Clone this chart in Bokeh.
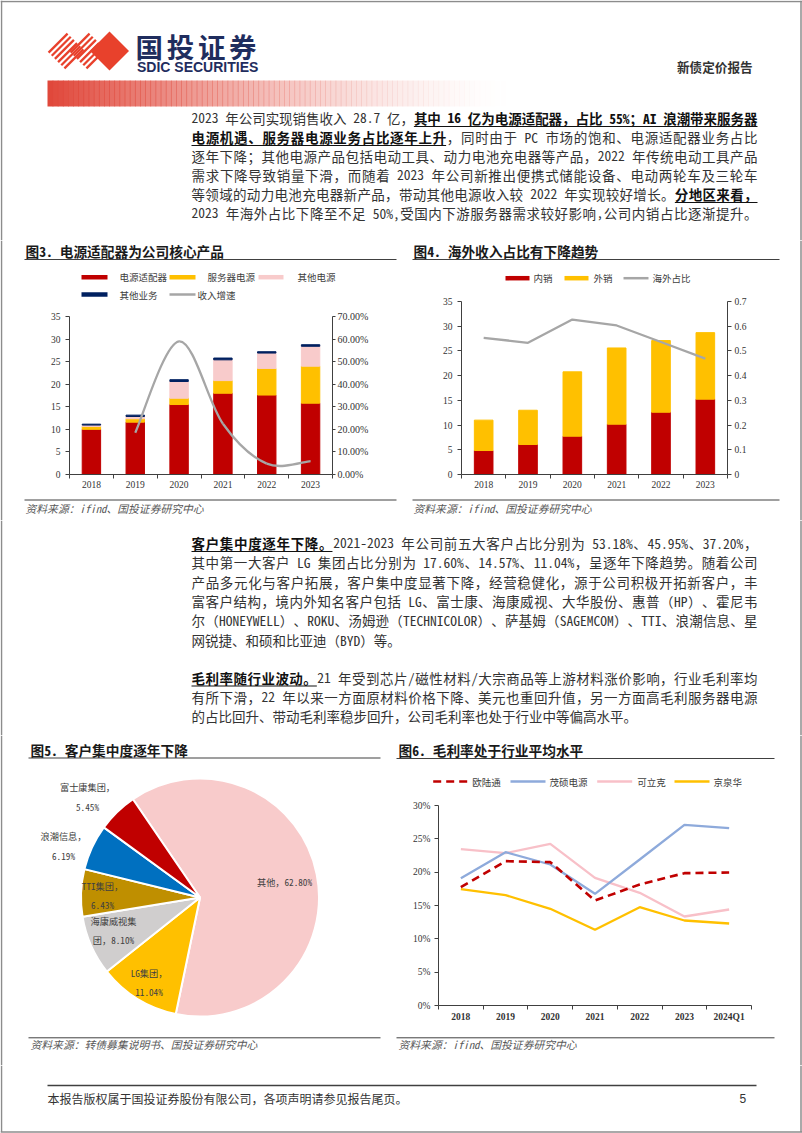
import math
from bokeh.plotting import figure
from bokeh.layouts import column, row
from bokeh.models import Range1d, FixedTicker, LinearAxis, PrintfTickFormatter, ColumnDataSource
from bokeh.core.properties import value
from bokeh.embed import file_html
from bokeh.resources import INLINE

# ---------------- data ----------------
years = ["2018", "2019", "2020", "2021", "2022", "2023"]
adapter = [10.0, 11.6, 15.5, 18.0, 17.6, 15.8]
server_power = [0.65, 0.75, 1.4, 2.8, 5.9, 8.2]
other_power = [0.3, 0.5, 3.7, 4.6, 3.4, 4.4]
other_business = [0.2, 0.3, 0.4, 0.4, 0.3, 0.35]
revenue_growth = [None, 18.5, 59.0, 22.5, 4.8, 5.9]
fig3_series = ["电源适配器", "服务器电源", "其他电源", "其他业务", "收入增速"]
fig3_left_ticks = [0, 5, 10, 15, 20, 25, 30, 35]
fig3_right_ticks = [0, 10, 20, 30, 40, 50, 60, 70]

domestic = [4.85, 6.07, 7.75, 10.18, 12.6, 15.24]
overseas = [6.15, 6.93, 13.02, 15.42, 14.5, 13.46]
overseas_share = [0.553, 0.533, 0.627, 0.603, 0.536, 0.469]
fig4_series = ["内销", "外销", "海外占比"]
fig4_left_ticks = [0, 5, 10, 15, 20, 25, 30, 35]
fig4_right_ticks = [0, 0.1, 0.2, 0.3, 0.4, 0.5, 0.6, 0.7]

client_names = ["其他", "LG集团", "海康威视集团", "TTI集团", "浪潮信息", "富士康集团"]
client_share = [62.80, 11.04, 8.10, 6.43, 6.19, 5.45]

gm_periods = ["2018", "2019", "2020", "2021", "2022", "2023", "2024Q1"]
gm_oulutong = [17.75, 21.65, 21.5, 15.75, 18.15, 19.85, 19.95]
gm_maoshuo = [19.1, 23.0, 21.15, 16.75, 21.9, 27.1, 26.6]
gm_kelike = [23.45, 22.85, 24.25, 19.15, 16.9, 13.35, 14.4]
gm_jingquanhua = [17.45, 16.55, 14.5, 11.35, 14.75, 12.75, 12.3]
gm_series = ["欧陆通", "茂硕电源", "可立克", "京泉华"]
gm_ticks = [0, 5, 10, 15, 20, 25, 30]

# ---------------- styles ----------------
BODY = "Noto Sans Mono CJK SC, Noto Sans CJK SC"
SERIF = "Liberation Serif, Noto Sans CJK SC"
AX = "#404040"
RED, YEL, PINK, NAVY, GRAY = "#c00000", "#ffc000", "#f8cbcb", "#002060", "#a6a6a6"
SRC_COLOR = "#595959"
BORDER = "#8c8c8c"
LEG_FS = 9.5
TICK_FS = "9.5px"


def deco(x0, x1, y0, y1):
    p = figure(width=x1 - x0, height=y1 - y0, x_range=Range1d(x0, x1), y_range=Range1d(y1, y0),
               x_axis_type=None, y_axis_type=None, output_backend="svg",
               toolbar_location=None, min_border=0)
    p.outline_line_color = None
    p.background_fill_color = "white"
    p.border_fill_color = "white"
    return p


def txt(p, x, y, s, size, color="#333333", font=BODY, style="normal", align="left", lh=1.2):
    p.text(x=[x], y=[y], text=[s], text_font=value(font), text_font_size=value(f"{size}px"),
           text_color=color, text_font_style=style, text_align=align, text_baseline="middle",
           text_line_height=lh)


def hline(p, x0, x1, y, color=AX, width=1.0, dash="solid"):
    p.segment(x0=[x0], y0=[y], x1=[x1], y1=[y], line_color=color, line_width=width, line_dash=dash)


def vline(p, x, y0, y1, color=BORDER, width=1.5):
    p.segment(x0=[x], y0=[y0], x1=[x], y1=[y1], line_color=color, line_width=width)


def layout_line(segments, x0, x1, fs, justify=True):
    toks = []
    pend = 0.0
    for text, style in segments:
        buf = ""
        for ch in text:
            if ch == " ":
                if buf:
                    toks.append([buf, 0.5 * len(buf) * fs, pend, style]); buf = ""; pend = 0.0
                pend += 0.5 * fs
            elif ord(ch) > 0x2E7F:
                if buf:
                    toks.append([buf, 0.5 * len(buf) * fs, pend, style]); buf = ""; pend = 0.0
                toks.append([ch, fs, pend, style]); pend = 0.0
            else:
                buf += ch
        if buf:
            toks.append([buf, 0.5 * len(buf) * fs, pend, style]); buf = ""; pend = 0.0
    natural = sum(t[1] + t[2] for t in toks) - toks[0][2]
    gaps = len(toks) - 1
    extra = (x1 - x0 - natural) / gaps if (justify and gaps > 0) else 0.0
    x = x0
    out = []
    for i, t in enumerate(toks):
        if i > 0:
            x += t[2] + extra
        out.append((t[0], x, t[1], t[3]))
        x += t[1]
    return out


def paragraph(p, lines, ys, x0, x1, fs, last_justify=False):
    for k, (segs, y) in enumerate(zip(lines, ys)):
        just = True if k < len(lines) - 1 else last_justify
        toks = layout_line(segs, x0, x1, fs, just)
        for style, color, weight in (("n", "#333333", "normal"), ("bu", "#111111", "bold")):
            sel = [t for t in toks if t[3] == style]
            if not sel:
                continue
            p.text(x=[t[1] for t in sel], y=[y] * len(sel), text=[t[0] for t in sel],
                   text_font=value(BODY), text_font_size=value(f"{fs}px"), text_color=color,
                   text_font_style=weight, text_align="left", text_baseline="middle")
            if style == "bu":
                hline(p, sel[0][1], sel[-1][1] + sel[-1][2], y + 8.5, "#111111", 1.0)


def cfg_axis(ax, ticks, minor=None, tick_out=4, standoff=5, size=TICK_FS, bold=False):
    ax.ticker = FixedTicker(ticks=ticks, minor_ticks=minor or [])
    ax.axis_line_color = AX
    ax.major_tick_line_color = AX
    ax.minor_tick_line_color = AX
    ax.major_tick_in = 0
    ax.major_tick_out = tick_out
    ax.minor_tick_in = 0
    ax.minor_tick_out = 4 if minor else 0
    ax.major_label_standoff = standoff
    ax.major_label_text_font = SERIF
    ax.major_label_text_font_size = size
    ax.major_label_text_color = "#333333"
    if bold:
        ax.major_label_text_font_style = "bold"


def chart_fig(width, height, xr, yr, mbl, mbr, mbt, mbb):
    p = figure(width=width, height=height, x_range=xr, y_range=yr, output_backend="svg",
               toolbar_location=None, min_border_left=mbl, min_border_right=mbr,
               min_border_top=mbt, min_border_bottom=mbb)
    p.outline_line_color = None
    p.xgrid.visible = False
    p.ygrid.visible = False
    p.background_fill_color = "white"
    p.border_fill_color = "white"
    return p


def catmull_bezier(xs, ys):
    n = len(xs)
    out = dict(x0=[], y0=[], x1=[], y1=[], cx0=[], cy0=[], cx1=[], cy1=[])
    for i in range(n - 1):
        xa, ya = xs[max(i - 1, 0)], ys[max(i - 1, 0)]
        xb, yb = xs[i], ys[i]
        xc, yc = xs[i + 1], ys[i + 1]
        xd, yd = xs[min(i + 2, n - 1)], ys[min(i + 2, n - 1)]
        out["x0"].append(xb); out["y0"].append(yb); out["x1"].append(xc); out["y1"].append(yc)
        out["cx0"].append(xb + (xc - xa) / 6); out["cy0"].append(yb + (yc - ya) / 6)
        out["cx1"].append(xc - (xd - xb) / 6); out["cy1"].append(yc - (yd - yb) / 6)
    return out


def strip(x0, x1, y0, y1, xl):
    s = deco(x0, x1, y0, y1)
    vline(s, xl, y0, y1)
    return s


# ================= Row A: header + paragraph 1 (y 0..240) =================
pa = deco(0, 802, 0, 240)
hline(pa, 0, 802, 1, BORDER, 1.5)
vline(pa, 1, 0, 240)
vline(pa, 800.5, 0, 240)
n_g = 90
gx0, gx1 = 47.0, 510.0
step = (gx1 - gx0) / n_g
pa.quad(left=[gx0 + i * step for i in range(n_g)], right=[gx0 + (i + 1) * step + 0.7 for i in range(n_g)],
        top=[80] * n_g, bottom=[106] * n_g, fill_color="#e0483b",
        fill_alpha=[(1 - i / n_g) ** 1.6 for i in range(n_g)], line_color=None)
LOGO = "#e8412c"
def stripes(p, cx, cy, h, n):
    xs0, ys0, xs1, ys1 = [], [], [], []
    for k in range(n):
        s = -h + (k + 0.5) * 2 * h / n
        xs0.append(cx + (s - h) / 2); ys0.append(cy + (s + h) / 2)
        xs1.append(cx + (s + h) / 2); ys1.append(cy + (s - h) / 2)
    p.segment(xs0, ys0, xs1, ys1, line_color=LOGO, line_width=2.3)
stripes(pa, 65.5, 50.5, 19, 6)
stripes(pa, 87.5, 50.5, 19, 6)
pa.patch([89.5, 109, 128.5, 109], [50.5, 31, 50.5, 70], fill_color=LOGO, line_color=None)
for i, ch in enumerate("国投证券"):
    txt(pa, 135 + i * 31.2, 45.5, ch, 27.5, color="#1f2d5e", font="Noto Sans CJK SC", style="bold")
txt(pa, 136.5, 66, "SDIC SECURITIES", 14, color="#1f2d5e", font="Liberation Sans", style="bold")
txt(pa, 676.5, 66, "新债定价报告", 12.6, color="#333333", font=BODY, style="bold")

para1 = [
    [("2023 年公司实现销售收入 28.7 亿，", "n"), ("其中 16 亿为电源适配器，占比 55%；AI 浪潮带来服务器", "bu")],
    [("电源机遇、服务器电源业务占比逐年上升", "bu"), ("，同时由于 PC 市场的饱和、电源适配器业务占比", "n")],
    [("逐年下降；其他电源产品包括电动工具、动力电池充电器等产品，2022 年传统电动工具产品", "n")],
    [("需求下降导致销量下滑，而随着 2023 年公司新推出便携式储能设备、电动两轮车及三轮车", "n")],
    [("等领域的动力电池充电器新产品，带动其他电源收入较 2022 年实现较好增长。", "n"), ("分地区来看，", "bu")],
    [("2023 年海外占比下降至不足 50%,受国内下游服务器需求较好影响,公司内销占比逐渐提升。", "n")],
]
paragraph(pa, para1, [117.5 + 19 * k for k in range(6)], 191, 757, 13.5, last_justify=True)

# ================= Row B: figure 3 and figure 4 (y 240..520) =================
h3 = deco(4, 400, 240, 305)
txt(h3, 25, 250, "图3. 电源适配器为公司核心产品", 13.7, color="#1a1a1a", style="bold")
hline(h3, 24, 396, 259, AX, 1.2)
leg3 = [(81, 107, 119, RED, 4.5, 276.7), (169, 195, 207, YEL, 4.5, 276.7), (258, 283, 297, PINK, 4.5, 276.7),
        (81, 107, 119, NAVY, 4.5, 294), (169, 195, 197, GRAY, 2.5, 294)]
for name, (a, b, tx, c, lw, yy) in zip(fig3_series, leg3):
    hline(h3, a, b, yy, c, lw)
    txt(h3, tx, yy, name, LEG_FS, color="#404040")

p3 = chart_fig(396, 192, Range1d(0.5, 6.5), Range1d(0, 35), 65, 68, 11, 23)
p3.extra_y_ranges = {"g": Range1d(0, 70)}
ax3r = LinearAxis(y_range_name="g")
p3.add_layout(ax3r, "right")
cfg_axis(p3.xaxis[0], [i + 1 for i in range(6)], minor=[i + 0.5 for i in range(7)], tick_out=0, standoff=2)
p3.xaxis[0].major_label_overrides = {i + 1: y for i, y in enumerate(years)}
cfg_axis(p3.left[0], fig3_left_ticks, tick_out=4, standoff=5)
cfg_axis(ax3r, fig3_right_ticks, tick_out=3, standoff=2, size="10px")
ax3r.formatter = PrintfTickFormatter(format="%.2f%%")
src3 = ColumnDataSource(dict(x=[i + 1 for i in range(6)], adapter=adapter, server=server_power,
                             otherp=other_power, otherb=other_business))
p3.vbar_stack(["adapter", "server", "otherp", "otherb"], x="x", width=0.42,
              color=[RED, YEL, PINK, NAVY], source=src3)
gx = [i + 1 for i, g in enumerate(revenue_growth) if g is not None]
gy = [g for g in revenue_growth if g is not None]
bz = ColumnDataSource(catmull_bezier(gx, gy))
p3.bezier(x0="x0", y0="y0", x1="x1", y1="y1", cx0="cx0", cy0="cy0", cx1="cx1", cy1="cy1",
          source=bz, y_range_name="g", line_color=GRAY, line_width=2.3)

f3 = deco(4, 400, 497, 520)
hline(f3, 24, 396, 499.5, AX, 1.0)
txt(f3, 25, 507.5, "资料来源：ifind、国投证券研究中心", 10.8, color=SRC_COLOR, style="italic")

h4 = deco(400, 798, 240, 293)
txt(h4, 413, 250, "图4. 海外收入占比有下降趋势", 13.7, color="#1a1a1a", style="bold")
hline(h4, 412, 779, 259, AX, 1.2)
leg4 = [(505, 529, 533, RED, 4.5), (564, 588, 593, YEL, 4.5), (623, 648, 652, GRAY, 2.5)]
for name, (a, b, tx, c, lw) in zip(fig4_series, leg4):
    hline(h4, a, b, 277.7, c, lw)
    txt(h4, tx, 277.7, name, LEG_FS, color="#404040")

p4 = chart_fig(398, 204, Range1d(0.5, 6.5), Range1d(0, 35), 61, 71, 8, 23)
p4.extra_y_ranges = {"s": Range1d(0, 0.7)}
ax4r = LinearAxis(y_range_name="s")
p4.add_layout(ax4r, "right")
cfg_axis(p4.xaxis[0], [i + 1 for i in range(6)], minor=[i + 0.5 for i in range(7)], tick_out=0, standoff=2)
p4.xaxis[0].major_label_overrides = {i + 1: y for i, y in enumerate(years)}
cfg_axis(p4.left[0], fig4_left_ticks, tick_out=4, standoff=5)
cfg_axis(ax4r, fig4_right_ticks, tick_out=4, standoff=3)
ax4r.formatter = PrintfTickFormatter(format="%.1f")
ax4r.major_label_overrides = {0: "0"}
src4 = ColumnDataSource(dict(x=[i + 1 for i in range(6)], dom=domestic, ovs=overseas, share=overseas_share))
p4.vbar_stack(["dom", "ovs"], x="x", width=0.42, color=[RED, YEL], source=src4)
p4.line(x="x", y="share", source=src4, y_range_name="s", line_color=GRAY, line_width=2.3)

f4 = deco(400, 798, 497, 520)
hline(f4, 412, 779, 499.5, AX, 1.0)
txt(f4, 413, 507.5, "资料来源：ifind、国投证券研究中心", 10.8, color=SRC_COLOR, style="italic")

# ================= Row C: paragraphs 2 & 3 (y 520..735) =================
pc = deco(0, 802, 520, 735)
vline(pc, 1, 520, 735)
vline(pc, 800.5, 520, 735)
para2 = [
    [("客户集中度逐年下降。", "bu"), ("2021-2023 年公司前五大客户占比分别为 53.18%、45.95%、37.20%，", "n")],
    [("其中第一大客户 LG 集团占比分别为 17.60%、14.57%、11.04%，呈逐年下降趋势。随着公司", "n")],
    [("产品多元化与客户拓展，客户集中度显著下降，经营稳健化，源于公司积极开拓新客户，丰", "n")],
    [("富客户结构，境内外知名客户包括 LG、富士康、海康威视、大华股份、惠普（HP）、霍尼韦", "n")],
    [("尔（HONEYWELL）、ROKU、汤姆逊（TECHNICOLOR）、萨基姆（SAGEMCOM）、TTI、浪潮信息、星", "n")],
    [("网锐捷、和硕和比亚迪（BYD）等。", "n")],
]
para3 = [
    [("毛利率随行业波动。", "bu"), ("21 年受到芯片/磁性材料/大宗商品等上游材料涨价影响，行业毛利率均", "n")],
    [("有所下滑，22 年以来一方面原材料价格下降、美元也重回升值，另一方面高毛利服务器电源", "n")],
    [("的占比回升、带动毛利率稳步回升，公司毛利率也处于行业中等偏高水平。", "n")],
]
paragraph(pc, para2, [542.5 + 19.3 * k for k in range(6)], 191, 757, 13.5)
paragraph(pc, para3, [677 + 19.3 * k for k in range(3)], 191, 757, 13.5)

# ================= Row D: figure 5 (pie) and figure 6 (y 735..1065) =================
p5 = deco(4, 390, 735, 1065)
txt(p5, 30, 749.5, "图5. 客户集中度逐年下降", 13.7, color="#1a1a1a", style="bold")
hline(p5, 28, 380, 757.5, AX, 1.2)
pie_colors = [PINK, YEL, "#d0cece", "#bf8f00", "#0070c0", RED]
pie_start = -34.3
tot = sum(client_share)
starts, ends, cum = [], [], 0.0
for s in client_share:
    c0 = pie_start + cum * 360 / tot
    cum += s
    c1 = pie_start + cum * 360 / tot
    starts.append(math.radians(90 - c0)); ends.append(math.radians(90 - c1))
p5.wedge(x=[199.5] * 6, y=[897] * 6, radius=119, radius_units="screen", start_angle=starts,
         end_angle=ends, direction="clock", fill_color=pie_colors, line_color="white", line_width=2)
pie_breaks = [None, "after", 5, "after", "after", "after"]
pie_pos = [(284, 881), (148.5, 982), (113, 930), (102, 895), (63, 845.5), (87, 796.5)]
for n_, s_, br, (lx, ly) in zip(client_names, client_share, pie_breaks, pie_pos):
    full = f"{n_}，{s_:.2f}%"
    if br == "after":
        lab = f"{n_}，\n{s_:.2f}%"
    elif isinstance(br, int):
        lab = full[:br] + "\n" + full[br:]
    else:
        lab = full
    txt(p5, lx, ly, lab, 9.2, color="#404040", align="center", lh=1.4)
hline(p5, 28, 380, 1037.3, AX, 1.0)
txt(p5, 30, 1043.5, "资料来源：转债募集说明书、国投证券研究中心", 10.8, color=SRC_COLOR, style="italic")

h6 = deco(390, 798, 735, 797)
txt(h6, 398, 749.5, "图6. 毛利率处于行业平均水平", 13.7, color="#1a1a1a", style="bold")
hline(h6, 396, 774, 758, AX, 1.2)
gm_colors = [RED, "#8eaadb", "#f8c0c8", YEL]
gm_dash = ["8 5", "solid", "solid", "solid"]
leg6 = [(432.7, 467.3, 471.7), (510, 545, 549), (596.7, 631.7, 636.7), (674, 709, 713)]
for name, c, d, (a, b, tx) in zip(gm_series, gm_colors, gm_dash, leg6):
    hline(h6, a, b, 781, c, 2.5, d)
    txt(h6, tx, 781, name, LEG_FS, color="#404040")

p6 = chart_fig(408, 231, Range1d(0.5, 7.5), Range1d(0, 30), 48, 47, 8, 23)
cfg_axis(p6.xaxis[0], [i + 1 for i in range(7)], minor=[i + 0.5 for i in range(8)], tick_out=0, standoff=2, bold=True)
p6.xaxis[0].major_label_overrides = {i + 1: y for i, y in enumerate(gm_periods)}
cfg_axis(p6.left[0], gm_ticks, tick_out=4, standoff=4)
p6.left[0].formatter = PrintfTickFormatter(format="%d%%")
xs6 = [i + 1 for i in range(7)]
for vals, c, d in zip([gm_oulutong, gm_maoshuo, gm_kelike, gm_jingquanhua][::-1],
                      gm_colors[::-1], gm_dash[::-1]):
    p6.line(xs6, vals, line_color=c, line_width=2.3 if d == "solid" else 2.6, line_dash=d)

f6 = deco(390, 798, 1028, 1065)
hline(f6, 396, 774, 1037.3, AX, 1.0)
txt(f6, 398, 1043.5, "资料来源：ifind、国投证券研究中心", 10.8, color=SRC_COLOR, style="italic")

# ================= Row E: footer (y 1065..1133) =================
pe = deco(0, 802, 1065, 1133)
vline(pe, 1, 1065, 1131.5)
vline(pe, 800.5, 1065, 1131.5)
hline(pe, 0, 802, 1131.5, BORDER, 1.5)
hline(pe, 47, 756, 1085, "#404040", 1.5)
txt(pe, 47, 1097.5, "本报告版权属于国投证券股份有限公司，各项声明请参见报告尾页。", 12, color="#333333")
txt(pe, 739, 1097.5, "5", 12, color="#333333", font="Liberation Sans")

rowB = row(strip(0, 4, 240, 520, 1),
           column(row(h3), p3, row(f3)),
           column(row(h4), p4, row(f4)),
           strip(798, 802, 240, 520, 800.5))
rowD = row(strip(0, 4, 735, 1065, 1),
           p5,
           column(row(h6), p6, row(f6)),
           strip(798, 802, 735, 1065, 800.5))
page = column(pa, rowB, pc, rowD, pe)

open("out.html", "w").write(file_html(page, INLINE))
